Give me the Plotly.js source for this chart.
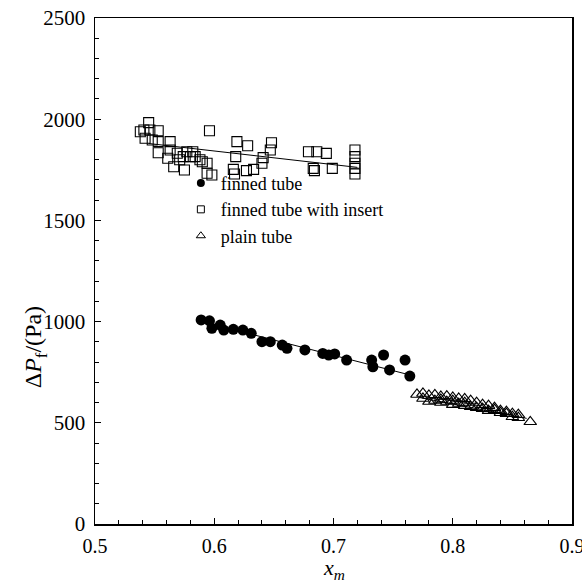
<!DOCTYPE html>
<html><head><meta charset="utf-8">
<script src="https://cdn.plot.ly/plotly-3.0.1.min.js"></script>
<style>html,body{margin:0;padding:0;background:#fff;overflow:hidden}#c{width:582px;height:583px}</style>
</head><body><div id="c"></div>
<script>
// finned tube (filled circles)
const finX = [0.589,0.596,0.598,0.605,0.608,0.616,0.624,0.631,0.640,0.647,0.657,0.661,0.676,0.691,0.696,0.701,0.711,0.732,0.733,0.742,0.747,0.760,0.764];
const finY = [1008,1004,967,983,958,962,958,942,901,901,884,868,860,843,835,840,810,810,777,835,761,810,731];
// finned tube with insert (open squares)
const insX = [0.545,0.538,0.541,0.546,0.553,0.542,0.548,0.553,0.553,0.563,0.563,0.561,0.569,0.574,0.580,0.584,0.577,0.582,0.566,0.575,0.594,0.594,0.598,0.596,
              0.619,0.628,0.648,0.647,0.618,0.641,0.616,0.617,0.627,0.633,0.640,0.679,0.686,0.694,0.683,0.684,0.699,0.718,0.718,0.718,0.718,0.718,0.571,0.588,0.590];
const insY = [1983,1938,1947,1947,1943,1906,1897,1889,1834,1889,1848,1807,1832,1815,1815,1815,1839,1839,1765,1749,1782,1733,1724,1943,
              1889,1869,1884,1848,1815,1810,1752,1729,1746,1752,1782,1839,1839,1831,1757,1746,1757,1848,1815,1782,1757,1729,1800,1800,1790];
// plain tube (open triangles)
const plnX = [0.770,0.775,0.780,0.785,0.790,0.795,0.800,0.805,0.810,0.815,0.820,0.825,0.830,0.835,0.840,0.845,0.850,0.855,0.865,
              0.780,0.785,0.790,0.795,0.800,0.805,0.810,0.815,0.820,0.825,0.830,0.835,0.840,0.845,0.850,0.855,0.775,0.790,0.800,0.810];
const plnY = [640,645,635,638,630,632,625,620,618,610,600,590,585,575,560,555,545,540,505,
              605,610,600,605,590,595,585,580,575,570,560,565,550,545,530,525,620,615,610,600];
// fitted trend lines
const insFitX = [0.545,0.720];
const insFitY = [1880,1762];
const finFitX = [0.590,0.765];
const finFitY = [1000,735];
const plnFitX = [0.772,0.862];
const plnFitY = [625,522];
const legendNames = ['finned tube','finned tube with insert','plain tube'];
const xTicks = [0.5,0.6,0.7,0.8,0.9];
const xTickText = ['0.5','0.6','0.7','0.8','0.9'];
const yTicks = [0,500,1000,1500,2000,2500];

const serif = 'Liberation Serif, Times New Roman, serif';
const ln = {color:'#000', width:1};
const traces = [
  {x:insFitX,y:insFitY,mode:'lines',line:ln,showlegend:false,hoverinfo:'skip'},
  {x:finFitX,y:finFitY,mode:'lines',line:ln,showlegend:false,hoverinfo:'skip'},
  {x:plnFitX,y:plnFitY,mode:'lines',line:ln,showlegend:false,hoverinfo:'skip'},
  {x:insX,y:insY,mode:'markers',showlegend:false,marker:{symbol:'square-open',size:10,color:'#000',line:{width:1.1}}},
  {x:finX,y:finY,mode:'markers',showlegend:false,marker:{symbol:'circle',size:11,color:'#000'}},
  {x:plnX,y:plnY,mode:'markers',showlegend:false,marker:{symbol:'triangle-up-open',size:11,color:'#000',line:{width:1.1}}},
  {x:[null],y:[null],mode:'markers',name:legendNames[0],marker:{symbol:'circle',size:8,color:'#000'}},
  {x:[null],y:[null],mode:'markers',name:legendNames[1],marker:{symbol:'square-open',size:7,color:'#000',line:{width:1}}},
  {x:[null],y:[null],mode:'markers',name:legendNames[2],marker:{symbol:'triangle-up-open',size:8,color:'#000',line:{width:1}}}
];
const layout = {
  width:582,height:583,
  margin:{l:95,r:10,t:18,b:59},
  paper_bgcolor:'#fff',plot_bgcolor:'#fff',
  font:{family:serif,size:20,color:'#000'},
  showlegend:true,
  legend:{x:0.18,y:0.71,xanchor:'left',yanchor:'top',bgcolor:'rgba(0,0,0,0)',font:{family:serif,size:18,color:'#000'},tracegroupgap:0,itemwidth:30},
  xaxis:{range:[0.5,0.9],tickmode:'array',tickvals:xTicks,ticktext:xTickText,showgrid:false,zeroline:false,
    showline:true,linecolor:'#000',linewidth:1.5,mirror:true,ticks:'inside',ticklen:6,tickcolor:'#000',
    minor:{tick0:0.5,dtick:0.02,ticks:'inside',ticklen:4,tickcolor:'#000',showgrid:false},
    ticklabeloverflow:'allow',ticklabelstandoff:3,
    tickfont:{family:serif,size:20}},
  yaxis:{range:[0,2500],tickmode:'array',tickvals:yTicks,showgrid:false,zeroline:false,
    showline:true,linecolor:'#000',linewidth:1.5,mirror:true,ticks:'inside',ticklen:6,tickcolor:'#000',
    minor:{tick0:0,dtick:100,ticks:'inside',ticklen:4,tickcolor:'#000',showgrid:false},
    ticklabeloverflow:'allow',ticklabelstandoff:4,
    tickfont:{family:serif,size:21}},
  annotations:[
    {text:'Δ<i>P</i><sub>f</sub>/(Pa)',xref:'paper',yref:'paper',x:-0.125,y:0.35,
     xanchor:'center',yanchor:'middle',textangle:-90,showarrow:false,font:{family:serif,size:24,color:'#000'}},
    {text:'<i>x<sub>m</sub></i>',xref:'paper',yref:'paper',x:0.5,y:-0.088,
     xanchor:'center',yanchor:'middle',showarrow:false,font:{family:serif,size:22,color:'#000'}}]
};
Plotly.newPlot('c',traces,layout,{displayModeBar:false,staticPlot:true});
</script></body></html>
